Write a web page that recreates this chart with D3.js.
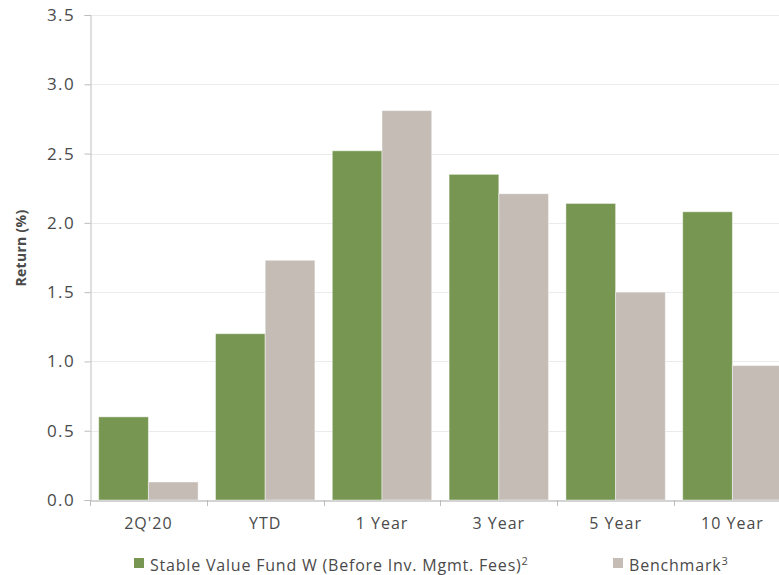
<!DOCTYPE html>
<html>
<head>
<meta charset="utf-8">
<script src="https://cdn.jsdelivr.net/npm/d3@7"></script>
<style>
  html, body { margin: 0; padding: 0; background: #fff; }
  svg { display: block; }
  text { font-family: "Open Sans", "Noto Sans", sans-serif; fill: #4a4a4a; }
</style>
</head>
<body>
<svg id="chart" width="779" height="575"></svg>
<script>
const categories = ["2Q'20", "YTD", "1 Year", "3 Year", "5 Year", "10 Year"];
const seriesNames = ["Stable Value Fund W (Before Inv. Mgmt. Fees)", "Benchmark"];
const seriesSup = ["2", "3"];
const fundValues = [0.60, 1.20, 2.52, 2.35, 2.14, 2.08];
const benchmarkValues = [0.13, 1.73, 2.81, 2.21, 1.50, 0.97];
const yTicks = [0.0, 0.5, 1.0, 1.5, 2.0, 2.5, 3.0, 3.5];
const colors = ["#779651", "#c4bcb5"];

const svg = d3.select("#chart");
const mLeft = 90, mTop = 15, mBottom = 500, mRight = 790.8;

const y = d3.scaleLinear().domain([0, 3.5]).range([mBottom, mTop]);
const x0 = d3.scaleBand().domain(categories).range([mLeft, mRight]).padding(0);
const x1 = d3.scaleBand().domain([0, 1]).range([0, x0.bandwidth()]).paddingInner(0).paddingOuter(0.175);

// gridlines
svg.append("g").selectAll("line").data(yTicks.filter(d => d > 0)).join("line")
  .attr("x1", mLeft).attr("x2", 779)
  .attr("y1", d => Math.round(y(d)) + 0.5).attr("y2", d => Math.round(y(d)) + 0.5)
  .attr("stroke", "#ebebeb").attr("stroke-width", 1);

// bars
const rows = categories.map((c, i) => ({ c, vals: [fundValues[i], benchmarkValues[i]] }));
const g = svg.append("g");
g.selectAll("g").data(rows).join("g")
  .attr("transform", d => `translate(${x0(d.c)},0)`)
  .selectAll("rect").data(d => d.vals.map((v, k) => ({ v, k }))).join("rect")
  .attr("x", d => x1(d.k))
  .attr("width", x1.bandwidth())
  .attr("y", d => y(d.v))
  .attr("height", d => mBottom - y(d.v))
  .attr("fill", d => colors[d.k])
  .attr("stroke", "#ffffff").attr("stroke-opacity", 0.45).attr("stroke-width", 1);

// y axis
const yAxis = d3.axisLeft(y).tickValues(yTicks).tickFormat(d3.format(".1f")).tickSize(6).tickPadding(9.5);
const ya = svg.append("g").attr("transform", `translate(${mLeft + 0.5},0)`).call(yAxis);
ya.select(".domain").attr("stroke", "#bdbdbd");
ya.selectAll(".tick line").attr("stroke", "#bdbdbd");
ya.selectAll(".tick text").attr("font-size", 17).style("font-family", "Open Sans, sans-serif")
  .style("letter-spacing", "1.4px").attr("fill", "#4a4a4a");

// x axis
const xAxis = d3.axisBottom(x0).tickSize(0).tickPadding(17);
const xa = svg.append("g").attr("transform", `translate(0,${mBottom + 0.5})`).call(xAxis);
xa.select(".domain").attr("stroke", "#a8a8a8");
xa.selectAll(".tick text").attr("font-size", 16).style("font-family", "Open Sans, sans-serif")
  .style("letter-spacing", "1px").attr("fill", "#4a4a4a");
// boundary ticks
svg.append("g").selectAll("line").data(categories).join("line")
  .attr("x1", d => Math.round(x0(d)) + 0.5).attr("x2", d => Math.round(x0(d)) + 0.5)
  .attr("y1", mBottom).attr("y2", mBottom + 6)
  .attr("stroke", "#bdbdbd");

// y title
svg.append("text")
  .attr("transform", "translate(26,248) rotate(-90)")
  .attr("text-anchor", "middle")
  .attr("font-size", 14).attr("font-weight", "bold")
  .style("letter-spacing", "0.3px")
  .text("Return (%)");

// legend
const legendX = [134, 613];
const lg = svg.append("g");
seriesNames.forEach((name, k) => {
  lg.append("rect").attr("x", legendX[k]).attr("y", 558).attr("width", 10).attr("height", 10).attr("fill", colors[k]);
  const t = lg.append("text").attr("x", legendX[k] + 16).attr("y", 571).attr("font-size", 16)
    .style("letter-spacing", "0.8px");
  t.append("tspan").text(name);
  t.append("tspan").attr("dy", -6).attr("font-size", 11).text(seriesSup[k]);
});
</script>
</body>
</html>
